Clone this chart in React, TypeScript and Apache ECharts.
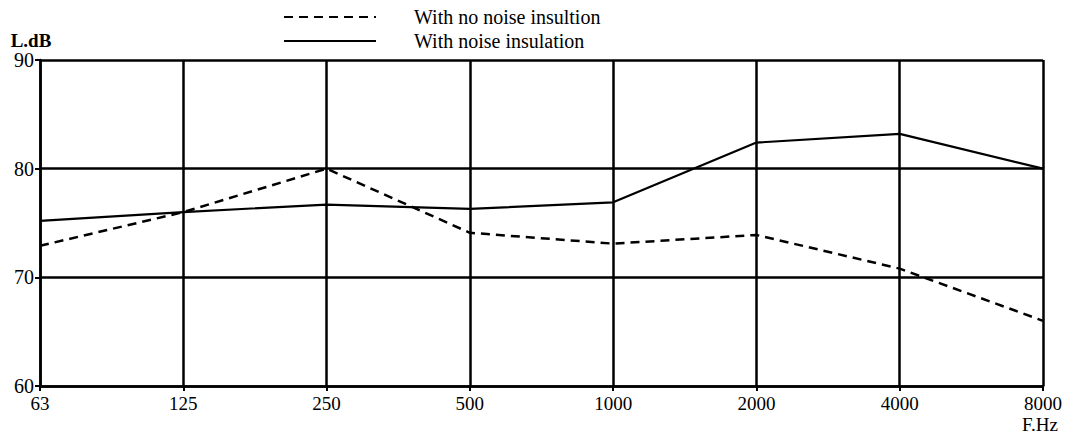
import React, { useEffect, useRef } from "react";
import * as echarts from "echarts";

const categories = ["63", "125", "250", "500", "1000", "2000", "4000", "8000"];
const noInsulation = [72.9, 76.0, 80.0, 74.1, 73.1, 73.9, 70.8, 66.0];
const withInsulation = [75.2, 76.0, 76.7, 76.3, 76.9, 82.4, 83.2, 80.0];
const seriesNames = ["With no noise insultion", "With noise insulation"];
const yTitle = "L.dB";
const xTitle = "F.Hz";

const FONT = "'Liberation Serif', 'DejaVu Serif', serif";

export default function App() {
  const ref = useRef<HTMLDivElement>(null);
  useEffect(() => {
    if (!ref.current) return;
    const chart = echarts.init(ref.current, undefined, { renderer: "svg" });
    chart.setOption({
      animation: false,
      backgroundColor: "#ffffff",
      textStyle: { fontFamily: FONT, color: "#000" },
      grid: { left: 40, right: 19, top: 60, bottom: 50, containLabel: false },
      legend: {
        orient: "vertical",
        left: 283,
        top: 7,
        padding: 0,
        itemWidth: 92,
        itemHeight: 20,
        itemGap: 4,
        itemStyle: { opacity: 0 },
        textStyle: { fontFamily: FONT, fontSize: 20, color: "#000", padding: [0, 0, 0, 33] },
        data: seriesNames,
      },
      xAxis: {
        type: "category",
        data: categories,
        boundaryGap: false,
        axisLine: { lineStyle: { color: "#000", width: 2.5 } },
        axisTick: { show: true, length: 5, lineStyle: { color: "#000", width: 2 } },
        axisLabel: { color: "#000", fontFamily: FONT, fontSize: 19, margin: 8 },
        splitLine: { show: true, lineStyle: { color: "#000", width: 2.5 } },
      },
      yAxis: {
        type: "value",
        min: 60,
        max: 90,
        interval: 10,
        name: yTitle,
        nameLocation: "end",
        nameGap: 8,
        nameTextStyle: { fontFamily: FONT, fontSize: 19, color: "#000", fontWeight: "bold", align: "center", padding: [0, 18, 0, 0] },
        axisLine: { show: true, lineStyle: { color: "#000", width: 2.5 } },
        axisTick: { show: true, length: 5, lineStyle: { color: "#000", width: 2 } },
        axisLabel: { color: "#000", fontFamily: FONT, fontSize: 20, margin: 6 },
        splitLine: { show: true, lineStyle: { color: "#000", width: 2.5 } },
      },
      graphic: [
        {
          type: "text",
          left: 1022,
          top: 415,
          style: { text: xTitle, font: `19px ${FONT}`, fill: "#000" },
        },
      ],
      series: [
        {
          name: seriesNames[0],
          type: "line",
          data: noInsulation,
          symbol: "none",
          lineStyle: { color: "#000", width: 2.5, type: [9, 6] },
          itemStyle: { color: "#000" },
        },
        {
          name: seriesNames[1],
          type: "line",
          data: withInsulation,
          symbol: "none",
          lineStyle: { color: "#000", width: 2.2, type: "solid" },
          itemStyle: { color: "#000" },
        },
      ],
    });
    return () => chart.dispose();
  }, []);
  return (
    <div
      ref={ref}
      style={{ position: "absolute", left: 0, top: 0, width: 1065, height: 436 }}
    />
  );
}
